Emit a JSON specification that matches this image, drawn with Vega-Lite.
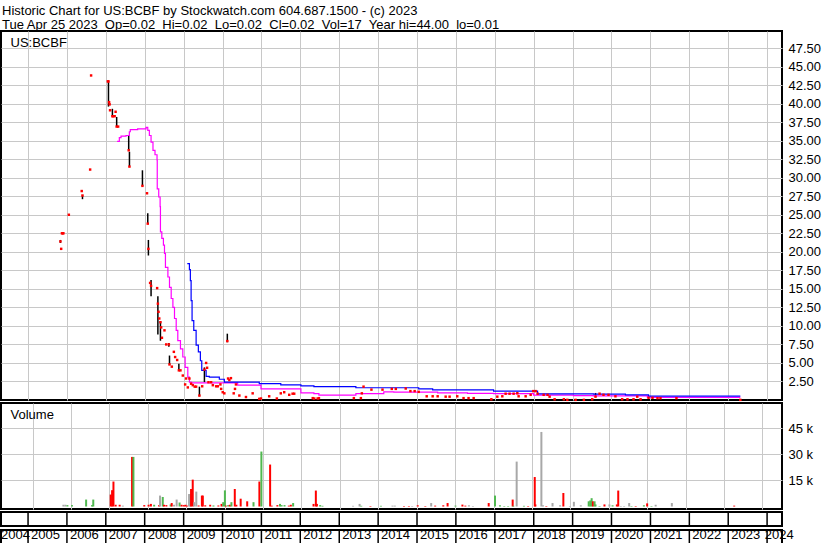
{
  "$schema": "https://vega.github.io/schema/vega-lite/v6.json",
  "padding": {"left": 0, "top": 5, "right": 0, "bottom": 0},
  "background": "white",
  "title": {
    "text": "Historic Chart for US:BCBF by Stockwatch.com 604.687.1500 - (c) 2023",
    "subtitle": "Tue Apr 25 2023\u00a0 Op=0.02\u00a0 Hi=0.02\u00a0 Lo=0.02\u00a0 Cl=0.02\u00a0 Vol=17\u00a0 Year hi=44.00\u00a0 lo=0.01",
    "anchor": "start",
    "frame": "bounds",
    "font": "Liberation Sans",
    "fontSize": 13,
    "fontWeight": "normal",
    "color": "#000",
    "subtitleFont": "Liberation Sans",
    "subtitleFontSize": 13,
    "subtitleColor": "#000",
    "subtitlePadding": 1,
    "offset": -2,
    "dx": 2
  },
  "config": {
    "font": "Liberation Sans",
    "view": {"stroke": "#000", "strokeWidth": 2},
    "axis": {"labelFont": "Liberation Sans", "labelFontSize": 13, "labelColor": "#000", "gridColor": "#c8c8c8", "gridWidth": 1,
      "titleFont": "Liberation Sans", "titleFontSize": 13, "titleFontWeight": "normal", "titleColor": "#000"}
  },
  "datasets": {
    "price": [
      {"d": "2005-11-01", "c": 21.4, "h": 21.6, "l": 21.2},
      {"d": "2005-11-08", "c": 20.4},
      {"d": "2005-11-15", "c": 22.5},
      {"d": "2005-11-22", "c": 22.5},
      {"d": "2005-11-29", "c": 22.5},
      {"d": "2006-01-19", "c": 25.0},
      {"d": "2006-05-20", "c": 28.2},
      {"d": "2006-05-27", "c": 27.6, "h": 27.6, "l": 27.1},
      {"d": "2006-08-07", "c": 31.1},
      {"d": "2006-08-16", "c": 43.8},
      {"d": "2007-01-20", "c": 43.0},
      {"d": "2007-01-26", "c": 43.0, "h": 43.0, "l": 39.6},
      {"d": "2007-02-01", "c": 40.2},
      {"d": "2007-02-06", "c": 39.9},
      {"d": "2007-02-10", "c": 39.1},
      {"d": "2007-03-04", "c": 38.3, "h": 39.3, "l": 38.3},
      {"d": "2007-03-10", "c": 38.3},
      {"d": "2007-03-25", "c": 38.3},
      {"d": "2007-04-03", "c": 38.9},
      {"d": "2007-04-13", "c": 36.9, "h": 38.2, "l": 36.9},
      {"d": "2007-04-27", "c": 36.9},
      {"d": "2007-08-04", "c": 33.7, "h": 35.7, "l": 33.7},
      {"d": "2007-08-11", "c": 31.5, "h": 33.5, "l": 31.5},
      {"d": "2007-12-11", "c": 28.9, "h": 31.0, "l": 28.9},
      {"d": "2008-01-23", "c": 27.9},
      {"d": "2008-01-30", "c": 23.8, "h": 25.2, "l": 23.8},
      {"d": "2008-02-05", "c": 20.4, "h": 21.6, "l": 19.5},
      {"d": "2008-02-21", "c": 15.8},
      {"d": "2008-03-01", "c": 15.4, "h": 16.2, "l": 14.0},
      {"d": "2008-04-27", "c": 15.1},
      {"d": "2008-05-04", "c": 13.0, "h": 14.0, "l": 8.85},
      {"d": "2008-05-10", "c": 11.9},
      {"d": "2008-05-17", "c": 11.0},
      {"d": "2008-05-28", "c": 10.5, "h": 10.6, "l": 8.0},
      {"d": "2008-06-04", "c": 9.8},
      {"d": "2008-06-11", "c": 8.4},
      {"d": "2008-07-05", "c": 9.4},
      {"d": "2008-07-21", "c": 7.5},
      {"d": "2008-08-15", "c": 7.5, "h": 7.7, "l": 7.2},
      {"d": "2008-08-21", "c": 4.8, "h": 6.0, "l": 4.8},
      {"d": "2008-09-12", "c": 4.5},
      {"d": "2008-10-01", "c": 6.5},
      {"d": "2008-10-13", "c": 5.8},
      {"d": "2008-11-01", "c": 5.4},
      {"d": "2008-11-17", "c": 4.0, "h": 4.9, "l": 4.0},
      {"d": "2008-12-02", "c": 4.0},
      {"d": "2008-12-24", "c": 3.3},
      {"d": "2009-01-15", "c": 2.1},
      {"d": "2009-01-24", "c": 2.9},
      {"d": "2009-02-09", "c": 1.7},
      {"d": "2009-02-24", "c": 2.9},
      {"d": "2009-03-12", "c": 2.2},
      {"d": "2009-03-28", "c": 2.0},
      {"d": "2009-04-15", "c": 1.8},
      {"d": "2009-04-28", "c": 1.8},
      {"d": "2009-05-29", "c": 0.6, "h": 1.8, "l": 0.5},
      {"d": "2009-06-24", "c": 1.85},
      {"d": "2009-07-15", "c": 4.1, "h": 4.4, "l": 2.4},
      {"d": "2009-07-31", "c": 5.0},
      {"d": "2009-08-09", "c": 4.35},
      {"d": "2009-08-22", "c": 2.4},
      {"d": "2009-09-16", "c": 2.4},
      {"d": "2009-10-02", "c": 2.0},
      {"d": "2009-11-02", "c": 1.85},
      {"d": "2009-11-18", "c": 1.85},
      {"d": "2009-12-12", "c": 2.1},
      {"d": "2009-12-19", "c": 1.5},
      {"d": "2010-01-03", "c": 1.05},
      {"d": "2010-01-18", "c": 0.9},
      {"d": "2010-02-15", "c": 7.95, "h": 8.95, "l": 7.8},
      {"d": "2010-02-22", "c": 2.9},
      {"d": "2010-03-06", "c": 2.7},
      {"d": "2010-03-21", "c": 2.95},
      {"d": "2010-04-16", "c": 0.9},
      {"d": "2010-04-28", "c": 1.5},
      {"d": "2010-05-07", "c": 2.1},
      {"d": "2010-06-08", "c": 0.6},
      {"d": "2010-08-09", "c": 0.4},
      {"d": "2010-10-11", "c": 0.9},
      {"d": "2010-12-12", "c": 0.15},
      {"d": "2010-12-28", "c": 0.2},
      {"d": "2011-03-15", "c": 0.5},
      {"d": "2011-05-26", "c": 0.2},
      {"d": "2011-07-02", "c": 0.9},
      {"d": "2011-08-03", "c": 1.05},
      {"d": "2011-09-19", "c": 0.7},
      {"d": "2011-10-21", "c": 0.85},
      {"d": "2011-11-05", "c": 0.85},
      {"d": "2012-04-27", "c": 0.25},
      {"d": "2012-05-11", "c": 0.2},
      {"d": "2012-06-12", "c": 0.2},
      {"d": "2012-06-24", "c": 0.25},
      {"d": "2013-05-18", "c": 0.25},
      {"d": "2013-07-23", "c": 0.25},
      {"d": "2013-08-01", "c": 0.9},
      {"d": "2013-08-17", "c": 1.8},
      {"d": "2013-10-30", "c": 1.4},
      {"d": "2014-02-11", "c": 1.4},
      {"d": "2014-05-09", "c": 1.5},
      {"d": "2014-06-16", "c": 1.5},
      {"d": "2014-09-17", "c": 1.55},
      {"d": "2014-10-31", "c": 1.2},
      {"d": "2014-12-10", "c": 1.2},
      {"d": "2015-01-17", "c": 1.1},
      {"d": "2015-04-02", "c": 0.5},
      {"d": "2015-05-28", "c": 0.5},
      {"d": "2015-07-14", "c": 0.5},
      {"d": "2015-09-27", "c": 0.45},
      {"d": "2015-11-03", "c": 0.45},
      {"d": "2016-01-14", "c": 0.5},
      {"d": "2016-03-13", "c": 0.25},
      {"d": "2016-04-29", "c": 0.25},
      {"d": "2016-06-16", "c": 0.25},
      {"d": "2016-11-29", "c": 0.1},
      {"d": "2017-01-24", "c": 0.45},
      {"d": "2017-03-12", "c": 0.5},
      {"d": "2017-04-12", "c": 0.85},
      {"d": "2017-05-19", "c": 0.85},
      {"d": "2017-06-26", "c": 0.85},
      {"d": "2017-07-31", "c": 0.9, "h": 1.1, "l": 0.9},
      {"d": "2017-08-12", "c": 0.5},
      {"d": "2017-10-17", "c": 0.5},
      {"d": "2017-12-03", "c": 0.7},
      {"d": "2017-12-28", "c": 1.2},
      {"d": "2018-01-19", "c": 1.2},
      {"d": "2018-02-06", "c": 0.85},
      {"d": "2018-04-04", "c": 0.7},
      {"d": "2018-05-11", "c": 0.7},
      {"d": "2018-05-30", "c": 0.45},
      {"d": "2018-07-16", "c": 0.1},
      {"d": "2018-10-11", "c": 0.1},
      {"d": "2018-11-12", "c": 0.02},
      {"d": "2019-01-29", "c": 0.02},
      {"d": "2019-04-17", "c": 0.02},
      {"d": "2019-07-04", "c": 0.1},
      {"d": "2019-08-04", "c": 0.45, "h": 0.95, "l": 0.4},
      {"d": "2019-09-11", "c": 0.85},
      {"d": "2019-10-18", "c": 0.7},
      {"d": "2019-12-04", "c": 0.7},
      {"d": "2020-02-07", "c": 0.5},
      {"d": "2020-04-10", "c": 0.1},
      {"d": "2020-05-30", "c": 0.1},
      {"d": "2020-07-26", "c": 0.1},
      {"d": "2020-08-30", "c": 0.45},
      {"d": "2020-09-30", "c": 0.1},
      {"d": "2020-12-14", "c": 0.3},
      {"d": "2021-01-20", "c": 0.3},
      {"d": "2021-03-08", "c": 0.25},
      {"d": "2021-04-05", "c": 0.25},
      {"d": "2021-09-02", "c": 0.25},
      {"d": "2023-04-25", "c": 0.02}
    ],
    "ma1": [
      {"d": "2007-04-17", "c": 34.9}, {"d": "2007-05-08", "c": 35.4}, {"d": "2007-05-24", "c": 35.6},
      {"d": "2007-07-10", "c": 35.7}, {"d": "2007-08-10", "c": 36.2}, {"d": "2007-08-19", "c": 36.5},
      {"d": "2007-10-27", "c": 36.6}, {"d": "2008-01-14", "c": 36.8}, {"d": "2008-01-30", "c": 36.4},
      {"d": "2008-02-14", "c": 35.7}, {"d": "2008-03-01", "c": 34.8}, {"d": "2008-03-19", "c": 33.7},
      {"d": "2008-04-07", "c": 33.1}, {"d": "2008-04-26", "c": 32.4}, {"d": "2008-04-28", "c": 28.5},
      {"d": "2008-05-12", "c": 27.4}, {"d": "2008-05-25", "c": 26.1}, {"d": "2008-05-28", "c": 22.7},
      {"d": "2008-06-10", "c": 21.8}, {"d": "2008-06-25", "c": 20.9}, {"d": "2008-07-05", "c": 19.8},
      {"d": "2008-07-14", "c": 17.9}, {"d": "2008-08-06", "c": 16.6}, {"d": "2008-08-21", "c": 15.2},
      {"d": "2008-09-06", "c": 13.7}, {"d": "2008-09-22", "c": 12.5}, {"d": "2008-10-07", "c": 11.0},
      {"d": "2008-10-23", "c": 9.4}, {"d": "2008-11-07", "c": 8.0}, {"d": "2008-12-02", "c": 6.9},
      {"d": "2008-12-24", "c": 5.8}, {"d": "2009-01-15", "c": 4.4}, {"d": "2009-02-09", "c": 3.1},
      {"d": "2009-02-24", "c": 2.4}, {"d": "2009-03-12", "c": 2.3}, {"d": "2010-05-23", "c": 2.0},
      {"d": "2010-12-28", "c": 1.5}, {"d": "2012-01-07", "c": 0.95}, {"d": "2012-05-08", "c": 0.85},
      {"d": "2012-06-24", "c": 0.65}, {"d": "2013-06-06", "c": 0.85}, {"d": "2014-02-23", "c": 1.1},
      {"d": "2014-05-28", "c": 1.05}, {"d": "2015-07-14", "c": 0.95}, {"d": "2016-04-19", "c": 0.9},
      {"d": "2016-12-20", "c": 0.85}, {"d": "2017-12-31", "c": 0.65}, {"d": "2019-01-09", "c": 0.6},
      {"d": "2019-07-15", "c": 0.55}, {"d": "2020-12-03", "c": 0.35}, {"d": "2023-04-25", "c": 0.35}
    ],
    "ma2": [
      {"d": "2009-02-04", "c": 18.4}, {"d": "2009-02-24", "c": 17.6}, {"d": "2009-03-05", "c": 16.1},
      {"d": "2009-03-12", "c": 13.4}, {"d": "2009-03-21", "c": 10.7}, {"d": "2009-04-06", "c": 9.4},
      {"d": "2009-04-28", "c": 7.4}, {"d": "2009-05-19", "c": 6.5}, {"d": "2009-06-07", "c": 5.3},
      {"d": "2009-06-20", "c": 4.0}, {"d": "2009-07-31", "c": 3.2}, {"d": "2009-08-30", "c": 3.1},
      {"d": "2009-12-02", "c": 2.8}, {"d": "2010-01-18", "c": 2.4}, {"d": "2010-12-12", "c": 2.2},
      {"d": "2011-07-02", "c": 2.05}, {"d": "2012-01-07", "c": 1.9}, {"d": "2012-05-08", "c": 1.8},
      {"d": "2013-06-06", "c": 1.65}, {"d": "2015-01-17", "c": 1.5}, {"d": "2015-05-28", "c": 1.38},
      {"d": "2016-12-20", "c": 1.19}, {"d": "2018-02-06", "c": 0.84}, {"d": "2019-07-16", "c": 0.8},
      {"d": "2020-05-11", "c": 0.7}, {"d": "2020-12-14", "c": 0.51}, {"d": "2023-04-25", "c": 0.51}
    ],
    "vol": [
      {"d": "2005-10-20", "v": 1000, "k": "f"}, {"d": "2005-11-08", "v": 1000, "k": "f"}, {"d": "2005-11-27", "v": 800, "k": "u"},
      {"d": "2006-01-10", "v": 800, "k": "u"}, {"d": "2006-05-24", "v": 4000, "k": "u"}, {"d": "2006-07-19", "v": 800, "k": "u"},
      {"d": "2006-07-31", "v": 4000, "k": "u"}, {"d": "2007-01-13", "v": 6900, "k": "d"}, {"d": "2007-01-26", "v": 9400, "k": "d"},
      {"d": "2007-02-08", "v": 14400, "k": "d"}, {"d": "2007-03-01", "v": 1000, "k": "d"}, {"d": "2007-04-08", "v": 1000, "k": "d"},
      {"d": "2007-05-08", "v": 500, "k": "f"}, {"d": "2007-08-04", "v": 28600, "k": "d"}, {"d": "2007-08-17", "v": 28600, "k": "u"},
      {"d": "2007-11-28", "v": 800, "k": "d"}, {"d": "2008-01-08", "v": 1000, "k": "d"}, {"d": "2008-01-30", "v": 1500, "k": "d"},
      {"d": "2008-03-01", "v": 1000, "k": "u"}, {"d": "2008-04-17", "v": 800, "k": "d"}, {"d": "2008-04-26", "v": 6300, "k": "f"},
      {"d": "2008-05-22", "v": 5500, "k": "u"}, {"d": "2008-06-03", "v": 1000, "k": "d"}, {"d": "2008-06-25", "v": 800, "k": "d"},
      {"d": "2008-08-05", "v": 1200, "k": "u"}, {"d": "2008-08-15", "v": 2000, "k": "d"}, {"d": "2008-09-06", "v": 1000, "k": "f"},
      {"d": "2008-10-01", "v": 4000, "k": "f"}, {"d": "2008-10-29", "v": 2300, "k": "u"}, {"d": "2008-11-17", "v": 1000, "k": "d"},
      {"d": "2008-12-08", "v": 800, "k": "d"}, {"d": "2008-12-24", "v": 1000, "k": "d"}, {"d": "2009-01-08", "v": 500, "k": "d"},
      {"d": "2009-01-27", "v": 7200, "k": "f"}, {"d": "2009-02-09", "v": 7200, "k": "f"}, {"d": "2009-02-15", "v": 10100, "k": "d"},
      {"d": "2009-03-03", "v": 15500, "k": "d"}, {"d": "2009-03-18", "v": 2500, "k": "f"}, {"d": "2009-04-06", "v": 8600, "k": "f"},
      {"d": "2009-04-28", "v": 600, "k": "d"}, {"d": "2009-05-29", "v": 6300, "k": "d"}, {"d": "2009-06-07", "v": 6300, "k": "d"},
      {"d": "2009-06-30", "v": 700, "k": "d"}, {"d": "2009-08-16", "v": 1000, "k": "d"}, {"d": "2009-09-16", "v": 600, "k": "u"},
      {"d": "2009-11-02", "v": 600, "k": "d"}, {"d": "2009-12-02", "v": 1500, "k": "d"}, {"d": "2009-12-18", "v": 2500, "k": "u"},
      {"d": "2010-01-03", "v": 9300, "k": "u"}, {"d": "2010-01-12", "v": 500, "k": "d"}, {"d": "2010-02-03", "v": 800, "k": "u"},
      {"d": "2010-02-19", "v": 1000, "k": "d"}, {"d": "2010-03-06", "v": 2500, "k": "u"}, {"d": "2010-04-07", "v": 10100, "k": "d"},
      {"d": "2010-04-22", "v": 1000, "k": "d"}, {"d": "2010-06-02", "v": 4500, "k": "d"}, {"d": "2010-08-03", "v": 3000, "k": "d"},
      {"d": "2010-10-02", "v": 2500, "k": "u"}, {"d": "2010-11-27", "v": 14400, "k": "d"}, {"d": "2010-12-16", "v": 31700, "k": "u"},
      {"d": "2011-03-09", "v": 24200, "k": "d"}, {"d": "2011-03-24", "v": 500, "k": "d"}, {"d": "2011-05-17", "v": 800, "k": "d"},
      {"d": "2011-06-11", "v": 1500, "k": "u"}, {"d": "2011-06-26", "v": 800, "k": "u"}, {"d": "2011-07-24", "v": 800, "k": "u"},
      {"d": "2011-09-03", "v": 500, "k": "d"}, {"d": "2011-09-22", "v": 1000, "k": "d"}, {"d": "2011-10-14", "v": 2000, "k": "u"},
      {"d": "2012-04-25", "v": 1500, "k": "d"}, {"d": "2012-05-17", "v": 9200, "k": "d"}, {"d": "2012-05-27", "v": 1500, "k": "d"},
      {"d": "2012-06-27", "v": 800, "k": "u"}, {"d": "2012-07-19", "v": 400, "k": "u"}, {"d": "2013-05-06", "v": 400, "k": "f"},
      {"d": "2013-07-07", "v": 1500, "k": "f"}, {"d": "2013-07-23", "v": 400, "k": "u"}, {"d": "2013-10-18", "v": 300, "k": "d"},
      {"d": "2014-01-26", "v": 400, "k": "u"}, {"d": "2014-05-16", "v": 500, "k": "f"}, {"d": "2014-06-07", "v": 500, "k": "f"},
      {"d": "2014-09-02", "v": 300, "k": "d"}, {"d": "2014-10-19", "v": 300, "k": "d"}, {"d": "2014-11-19", "v": 300, "k": "f"},
      {"d": "2015-01-11", "v": 700, "k": "d"}, {"d": "2015-03-24", "v": 300, "k": "d"}, {"d": "2015-05-19", "v": 2000, "k": "f"},
      {"d": "2015-06-26", "v": 500, "k": "d"}, {"d": "2015-09-11", "v": 700, "k": "d"}, {"d": "2015-10-22", "v": 2000, "k": "d"},
      {"d": "2016-01-05", "v": 500, "k": "u"}, {"d": "2016-03-11", "v": 1100, "k": "d"}, {"d": "2016-04-08", "v": 500, "k": "d"},
      {"d": "2016-05-12", "v": 700, "k": "f"}, {"d": "2016-06-19", "v": 300, "k": "f"}, {"d": "2016-11-16", "v": 2000, "k": "d"},
      {"d": "2017-01-15", "v": 6300, "k": "u"}, {"d": "2017-03-03", "v": 700, "k": "u"}, {"d": "2017-04-13", "v": 300, "k": "u"},
      {"d": "2017-05-20", "v": 300, "k": "u"}, {"d": "2017-07-02", "v": 4000, "k": "d"}, {"d": "2017-07-08", "v": 400, "k": "u"},
      {"d": "2017-08-09", "v": 25900, "k": "f"}, {"d": "2017-10-17", "v": 400, "k": "u"}, {"d": "2017-11-26", "v": 300, "k": "d"},
      {"d": "2018-01-28", "v": 17000, "k": "d"}, {"d": "2018-02-03", "v": 1200, "k": "d"}, {"d": "2018-04-01", "v": 43000, "k": "f"},
      {"d": "2018-04-16", "v": 700, "k": "f"}, {"d": "2018-05-18", "v": 300, "k": "d"}, {"d": "2018-07-16", "v": 2000, "k": "f"},
      {"d": "2018-09-26", "v": 700, "k": "f"}, {"d": "2018-10-27", "v": 7800, "k": "d"}, {"d": "2018-12-28", "v": 300, "k": "f"},
      {"d": "2019-02-04", "v": 2700, "k": "f"}, {"d": "2019-04-11", "v": 700, "k": "f"}, {"d": "2019-06-25", "v": 3000, "k": "u"},
      {"d": "2019-07-10", "v": 3500, "k": "u"}, {"d": "2019-07-23", "v": 4800, "k": "u"}, {"d": "2019-08-04", "v": 3000, "k": "d"},
      {"d": "2019-08-20", "v": 3000, "k": "u"}, {"d": "2019-08-29", "v": 1200, "k": "u"}, {"d": "2019-10-06", "v": 300, "k": "u"},
      {"d": "2019-11-22", "v": 1200, "k": "d"}, {"d": "2020-01-08", "v": 1200, "k": "f"}, {"d": "2020-02-07", "v": 700, "k": "u"},
      {"d": "2020-03-19", "v": 1200, "k": "d"}, {"d": "2020-04-01", "v": 9200, "k": "d"}, {"d": "2020-04-25", "v": 300, "k": "f"},
      {"d": "2020-05-27", "v": 300, "k": "f"}, {"d": "2020-07-14", "v": 2000, "k": "f"}, {"d": "2020-08-05", "v": 300, "k": "u"},
      {"d": "2020-09-14", "v": 300, "k": "d"}, {"d": "2020-12-01", "v": 700, "k": "u"}, {"d": "2021-01-01", "v": 1800, "k": "d"},
      {"d": "2021-02-11", "v": 300, "k": "u"}, {"d": "2021-03-23", "v": 1000, "k": "f"}, {"d": "2021-08-24", "v": 2000, "k": "f"},
      {"d": "2023-04-09", "v": 500, "k": "d"}
    ],
    "years": [
      {"year": "2004", "start": "2004-01-01", "ld": "2004-04-22"},
      {"year": "2005", "start": "2005-01-01", "ld": "2005-01-29"},
      {"year": "2006", "start": "2006-01-01", "ld": "2006-01-29"},
      {"year": "2007", "start": "2007-01-01", "ld": "2007-01-29"},
      {"year": "2008", "start": "2008-01-01", "ld": "2008-01-29"},
      {"year": "2009", "start": "2009-01-01", "ld": "2009-01-29"},
      {"year": "2010", "start": "2010-01-01", "ld": "2010-01-29"},
      {"year": "2011", "start": "2011-01-01", "ld": "2011-01-29"},
      {"year": "2012", "start": "2012-01-01", "ld": "2012-01-29"},
      {"year": "2013", "start": "2013-01-01", "ld": "2013-01-29"},
      {"year": "2014", "start": "2014-01-01", "ld": "2014-01-29"},
      {"year": "2015", "start": "2015-01-01", "ld": "2015-01-29"},
      {"year": "2016", "start": "2016-01-01", "ld": "2016-01-29"},
      {"year": "2017", "start": "2017-01-01", "ld": "2017-01-29"},
      {"year": "2018", "start": "2018-01-01", "ld": "2018-01-29"},
      {"year": "2019", "start": "2019-01-01", "ld": "2019-01-29"},
      {"year": "2020", "start": "2020-01-01", "ld": "2020-01-29"},
      {"year": "2021", "start": "2021-01-01", "ld": "2021-01-29"},
      {"year": "2022", "start": "2022-01-01", "ld": "2022-01-29"},
      {"year": "2023", "start": "2023-01-01", "ld": "2023-01-29"},
      {"year": "2024", "start": "2024-01-01", "ld": "2023-12-11"}
    ]
  },
  "spacing": -1,
  "vconcat": [
    {
      "width": 781,
      "height": 369,
      "encoding": {
        "x": {
          "field": "d", "type": "temporal",
          "scale": {"domain": [{"year": 2004, "month": 4, "date": 22}, {"year": 2024, "month": 5, "date": 20}]},
          "axis": {"orient": "top", "title": "US:BCBF", "titleX": 9, "titleY": 15, "titleAlign": "left", "titleBaseline": "alphabetic", "titleAnchor": "start",
            "grid": true, "labels": false, "ticks": false, "domain": false, "minExtent": 0, "maxExtent": 0, "offset": 0,
            "values": [{"year": 2005, "month": 1, "date": 1}, {"year": 2006, "month": 1, "date": 1}, {"year": 2007, "month": 1, "date": 1}, {"year": 2008, "month": 1, "date": 1}, {"year": 2009, "month": 1, "date": 1}, {"year": 2010, "month": 1, "date": 1}, {"year": 2011, "month": 1, "date": 1}, {"year": 2012, "month": 1, "date": 1}, {"year": 2013, "month": 1, "date": 1}, {"year": 2014, "month": 1, "date": 1}, {"year": 2015, "month": 1, "date": 1}, {"year": 2016, "month": 1, "date": 1}, {"year": 2017, "month": 1, "date": 1}, {"year": 2018, "month": 1, "date": 1}, {"year": 2019, "month": 1, "date": 1}, {"year": 2020, "month": 1, "date": 1}, {"year": 2021, "month": 1, "date": 1}, {"year": 2022, "month": 1, "date": 1}, {"year": 2023, "month": 1, "date": 1}, {"year": 2024, "month": 1, "date": 1}]}
        },
        "y": {"field": "c", "type": "quantitative", "scale": {"domain": [0, 49.8], "nice": false, "zero": false},
          "axis": {"title": null, "orient": "right", "values": [2.5, 5, 7.5, 10, 12.5, 15, 17.5, 20, 22.5, 25, 27.5, 30, 32.5, 35, 37.5, 40, 42.5, 45, 47.5], "format": ".2f", "grid": true, "ticks": false, "domain": false, "labelPadding": 6, "labelOverlap": false, "labelBaseline": "middle"}}
      },
      "layer": [
        {
          "data": {"name": "price"},
          "transform": [{"filter": "isValid(datum.h)"}],
          "mark": {"type": "rule", "color": "#000", "strokeWidth": 1.5},
          "encoding": {
            "y": {"field": "l", "type": "quantitative", "scale": {"domain": [0, 49.8], "nice": false, "zero": false},
              "axis": {"title": null, "orient": "right", "values": [2.5, 5, 7.5, 10, 12.5, 15, 17.5, 20, 22.5, 25, 27.5, 30, 32.5, 35, 37.5, 40, 42.5, 45, 47.5], "format": ".2f", "grid": true, "ticks": false, "domain": false, "labelPadding": 6, "labelOverlap": false, "labelBaseline": "middle"}},
            "y2": {"field": "h"}
          }
        },
        {
          "data": {"name": "ma1"},
          "mark": {"type": "line", "color": "#ff00ff", "strokeWidth": 1.2, "interpolate": "step-after"}
        },
        {
          "data": {"name": "ma2"},
          "mark": {"type": "line", "color": "#0000ff", "strokeWidth": 1.2, "interpolate": "step-after"}
        },
        {
          "data": {"name": "price"},
          "mark": {"type": "point", "shape": "square", "filled": true, "size": 6, "color": "#ff0000", "opacity": 1, "strokeWidth": 0}
        }
      ]
    },
    {
      "spacing": 0,
      "vconcat": [
        {
          "width": 781,
          "height": 106,
          "data": {"name": "vol"},
          "mark": {"type": "bar", "width": 2},
          "encoding": {
            "x": {
              "field": "d", "type": "temporal",
              "scale": {"domain": [{"year": 2004, "month": 4, "date": 22}, {"year": 2024, "month": 5, "date": 20}]},
              "axis": {"orient": "top", "title": "Volume", "titleX": 9, "titleY": 15, "titleAlign": "left", "titleBaseline": "alphabetic", "titleAnchor": "start",
                "grid": true, "labels": false, "ticks": false, "domain": false, "minExtent": 0, "maxExtent": 0, "offset": 0,
                "values": [{"year": 2005, "month": 1, "date": 1}, {"year": 2006, "month": 1, "date": 1}, {"year": 2007, "month": 1, "date": 1}, {"year": 2008, "month": 1, "date": 1}, {"year": 2009, "month": 1, "date": 1}, {"year": 2010, "month": 1, "date": 1}, {"year": 2011, "month": 1, "date": 1}, {"year": 2012, "month": 1, "date": 1}, {"year": 2013, "month": 1, "date": 1}, {"year": 2014, "month": 1, "date": 1}, {"year": 2015, "month": 1, "date": 1}, {"year": 2016, "month": 1, "date": 1}, {"year": 2017, "month": 1, "date": 1}, {"year": 2018, "month": 1, "date": 1}, {"year": 2019, "month": 1, "date": 1}, {"year": 2020, "month": 1, "date": 1}, {"year": 2021, "month": 1, "date": 1}, {"year": 2022, "month": 1, "date": 1}, {"year": 2023, "month": 1, "date": 1}, {"year": 2024, "month": 1, "date": 1}]}
            },
            "y": {"field": "v", "type": "quantitative", "scale": {"domain": [-1440, 59700], "nice": false, "zero": false},
              "axis": {"title": null, "orient": "right", "values": [15000, 30000, 45000], "labelExpr": "(datum.value/1000) + ' k'", "grid": true, "ticks": false, "domain": false, "labelPadding": 6, "labelBaseline": "middle"}},
            "y2": {"datum": 0},
            "color": {"field": "k", "type": "nominal", "scale": {"domain": ["u", "d", "f"], "range": ["#50b850", "#ff0000", "#a8a8a8"]}, "legend": null}
          }
        },
        {
          "width": 781,
          "height": 14,
          "data": {"name": "years"},
          "transform": [{"filter": "datum.year != '2004'"}],
          "mark": {"type": "rule", "color": "#000", "strokeWidth": 1.5},
          "encoding": {
            "x": {"field": "start", "type": "temporal", "scale": {"domain": [{"year": 2004, "month": 4, "date": 22}, {"year": 2024, "month": 5, "date": 20}]}, "axis": null}
          }
        },
        {
          "width": 781,
          "height": 16,
          "data": {"name": "years"},
          "layer": [
            {
              "transform": [{"filter": "datum.year != '2004'"}],
              "mark": {"type": "rule", "color": "#000", "strokeWidth": 1.5},
              "encoding": {
                "x": {"field": "start", "type": "temporal", "scale": {"domain": [{"year": 2004, "month": 4, "date": 22}, {"year": 2024, "month": 5, "date": 20}]}, "axis": null}
              }
            },
            {
              "mark": {"type": "text", "align": "left", "baseline": "middle", "dy": -3, "font": "Liberation Sans", "fontSize": 13, "color": "#000"},
              "encoding": {
                "x": {"field": "ld", "type": "temporal", "scale": {"domain": [{"year": 2004, "month": 4, "date": 22}, {"year": 2024, "month": 5, "date": 20}]}, "axis": null},
                "text": {"field": "year"}
              }
            }
          ]
        }
      ]
    }
  ]
}
